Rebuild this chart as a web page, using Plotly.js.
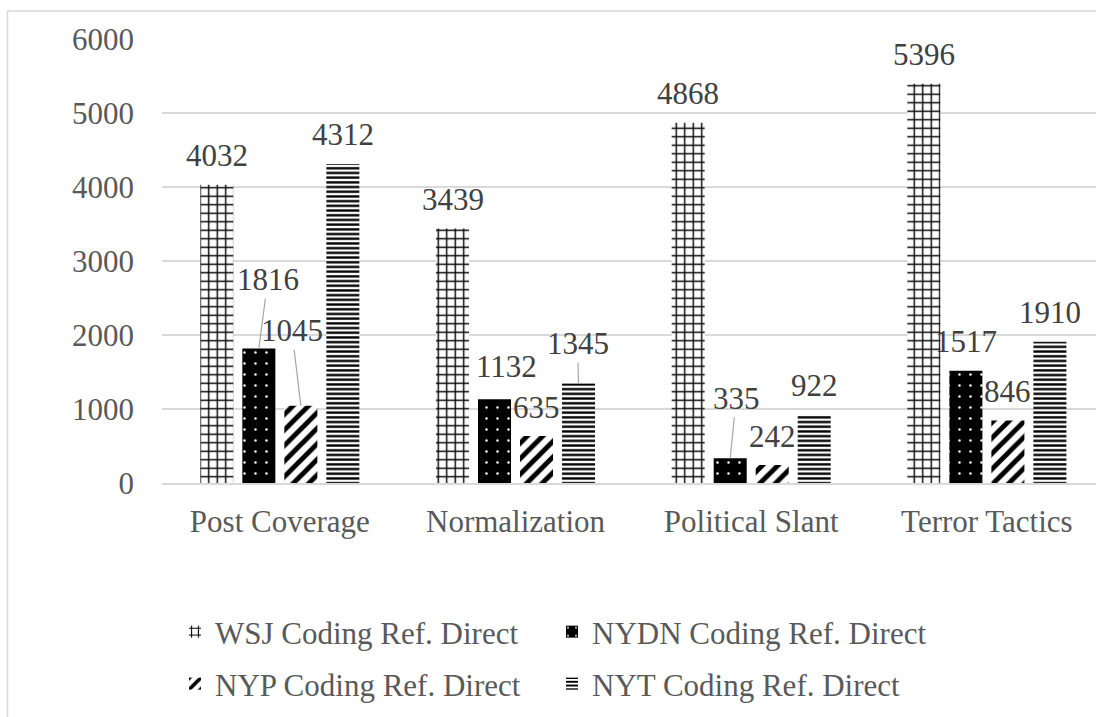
<!DOCTYPE html>
<html>
<head>
<meta charset="utf-8">
<script src="https://cdn.plot.ly/plotly-3.0.1.min.js"></script>
<style>
  html, body { margin: 0; padding: 0; background: #ffffff; overflow: hidden; }
  #chart { width: 1096px; height: 717px; }
</style>
</head>
<body>
<div id="chart"></div>
<script>
// Categories and counts per newspaper
const categories = ["Post Coverage", "Normalization", "Political Slant", "Terror Tactics"];
const seriesNames = [
  "WSJ Coding Ref. Direct",
  "NYDN Coding Ref. Direct",
  "NYP Coding Ref. Direct",
  "NYT Coding Ref. Direct"
];
const wsjValues  = [4032, 3439, 4868, 5396];
const nydnValues = [1816, 1132, 335, 1517];
const nypValues  = [1045, 635, 242, 846];
const nytValues  = [4312, 1345, 922, 1910];
const yTickValues = [0, 1000, 2000, 3000, 4000, 5000, 6000];

const allValues = [wsjValues, nydnValues, nypValues, nytValues];

// Fill patterns for each series (black & white print style)
const patterns = [
  { shape: "+", fgcolor: "#000000", bgcolor: "#ffffff", size: 8.5, solidity: 0.3, fillmode: "replace" },
  { shape: ".", fgcolor: "#ffffff", bgcolor: "#000000", size: 11, solidity: 0.04, fillmode: "replace" },
  { shape: "/", fgcolor: "#000000", bgcolor: "#ffffff", size: 11, solidity: 0.45, fillmode: "replace" },
  { shape: "-", fgcolor: "#000000", bgcolor: "#ffffff", size: 4.7, solidity: 0.5, fillmode: "replace" }
];
const baseColors = ["#ffffff", "#000000", "#ffffff", "#000000"];
const legendIds = ["legend", "legend2", "legend3", "legend4"];

const FONT = "'Liberation Serif', 'Times New Roman', Times, serif";
const AXIS_GRAY = "#595959";
const LABEL_GRAY = "#404040";
const GRID = "#d9d9d9";

const traces = allValues.map((vals, k) => ({
  type: "bar",
  name: seriesNames[k],
  x: categories,
  y: vals,
  legend: legendIds[k],
  marker: {
    color: baseColors[k],
    line: { width: 0 },
    pattern: patterns[k]
  },
  hoverinfo: "x+y+name"
}));

// Plot geometry used to place value labels beside their bars
const PLOT_LEFT = 162, PLOT_TOP = 39, PLOT_BOTTOM_MARGIN = 234;
const X_RANGE = [-0.5, 3.463];
const BARGAP = 0.287, BARGROUPGAP = 0.214;
const plotWidth = 1096 - PLOT_LEFT;
const unitPx = plotWidth / (X_RANGE[1] - X_RANGE[0]);
const slotPx = unitPx * (1 - BARGAP) / 4;

// Labels that were moved off their default spot, with a leader line back to the bar
// key: "series,category" -> [dx, dy, leader]
const movedLabels = {
  "1,0": [9, -69, true],
  "2,0": [-9, -75, true],
  "1,1": [12, -33, false],
  "3,1": [-1, -40, true],
  "1,2": [6, -60, true]
};

const annotations = [];
allValues.forEach((vals, k) => {
  vals.forEach((v, i) => {
    const base = (k - 1.5) * slotPx;
    const moved = movedLabels[k + "," + i];
    const common = {
      x: categories[i],
      y: v,
      xref: "x",
      yref: "y",
      text: String(v),
      font: { family: FONT, size: 31, color: LABEL_GRAY },
      xshift: base
    };
    if (moved && moved[2]) {
      annotations.push(Object.assign(common, {
        showarrow: true,
        arrowhead: 0,
        arrowwidth: 1.2,
        arrowcolor: "#a6a6a6",
        standoff: 0,
        startstandoff: 0,
        ax: moved[0],
        ay: moved[1],
        axref: "pixel",
        ayref: "pixel",
        xanchor: "center",
        yanchor: "middle"
      }));
    } else {
      const dx = moved ? moved[0] : 0;
      const dy = moved ? moved[1] : -29;
      annotations.push(Object.assign(common, {
        showarrow: false,
        xshift: base + dx,
        yshift: -dy,
        xanchor: "center",
        yanchor: "middle"
      }));
    }
  });
});

// Thin frame on the left and top of the chart area
const plotHeight = 717 - PLOT_TOP - PLOT_BOTTOM_MARGIN;
const toPaperX = px => (px - PLOT_LEFT) / plotWidth;
const toPaperY = py => (717 - PLOT_BOTTOM_MARGIN - py) / plotHeight;
const shapes = [
  { type: "line", xref: "paper", yref: "paper",
    x0: toPaperX(7.5), x1: toPaperX(7.5), y0: toPaperY(11), y1: toPaperY(717),
    line: { color: GRID, width: 1.5 } },
  { type: "line", xref: "paper", yref: "paper",
    x0: toPaperX(7.5), x1: toPaperX(1096), y0: toPaperY(11), y1: toPaperY(11),
    line: { color: GRID, width: 1.5 } }
];

// One single-entry legend per series, laid out in a 2 x 2 block
const legendRowY = [toPaperY(632), toPaperY(684)];
const legendColX = [toPaperX(175), toPaperX(552)];
const legendPos = [
  [legendColX[0], legendRowY[0]],
  [legendColX[1], legendRowY[0]],
  [legendColX[0], legendRowY[1]],
  [legendColX[1], legendRowY[1]]
];
const layout = {
  width: 1096,
  height: 717,
  margin: { l: PLOT_LEFT, r: 0, t: PLOT_TOP, b: PLOT_BOTTOM_MARGIN, pad: 0 },
  paper_bgcolor: "#ffffff",
  plot_bgcolor: "#ffffff",
  barmode: "group",
  bargap: BARGAP,
  bargroupgap: BARGROUPGAP,
  showlegend: true,
  font: { family: FONT, size: 31, color: AXIS_GRAY },
  xaxis: {
    type: "category",
    range: X_RANGE,
    showgrid: false,
    showline: true,
    linecolor: GRID,
    linewidth: 1.5,
    ticks: "",
    ticklabelstandoff: 10,
    tickfont: { family: FONT, size: 31, color: AXIS_GRAY },
    fixedrange: true
  },
  yaxis: {
    range: [0, 6000],
    tickvals: yTickValues,
    ticktext: yTickValues.map(String),
    showgrid: true,
    gridcolor: GRID,
    gridwidth: 1.5,
    zeroline: false,
    showline: false,
    ticks: "",
    ticklabelstandoff: 27,
    tickfont: { family: FONT, size: 31, color: AXIS_GRAY },
    fixedrange: true
  },
  annotations: annotations,
  shapes: shapes
};
legendIds.forEach((id, k) => {
  layout[id] = {
    x: legendPos[k][0],
    y: legendPos[k][1],
    xanchor: "left",
    yanchor: "middle",
    orientation: "h",
    bgcolor: "rgba(0,0,0,0)",
    borderwidth: 0,
    font: { family: FONT, size: 31, color: AXIS_GRAY },
    itemclick: false,
    itemdoubleclick: false
  };
});

Plotly.newPlot("chart", traces, layout, { displayModeBar: false, staticPlot: true });
</script>
</body>
</html>
